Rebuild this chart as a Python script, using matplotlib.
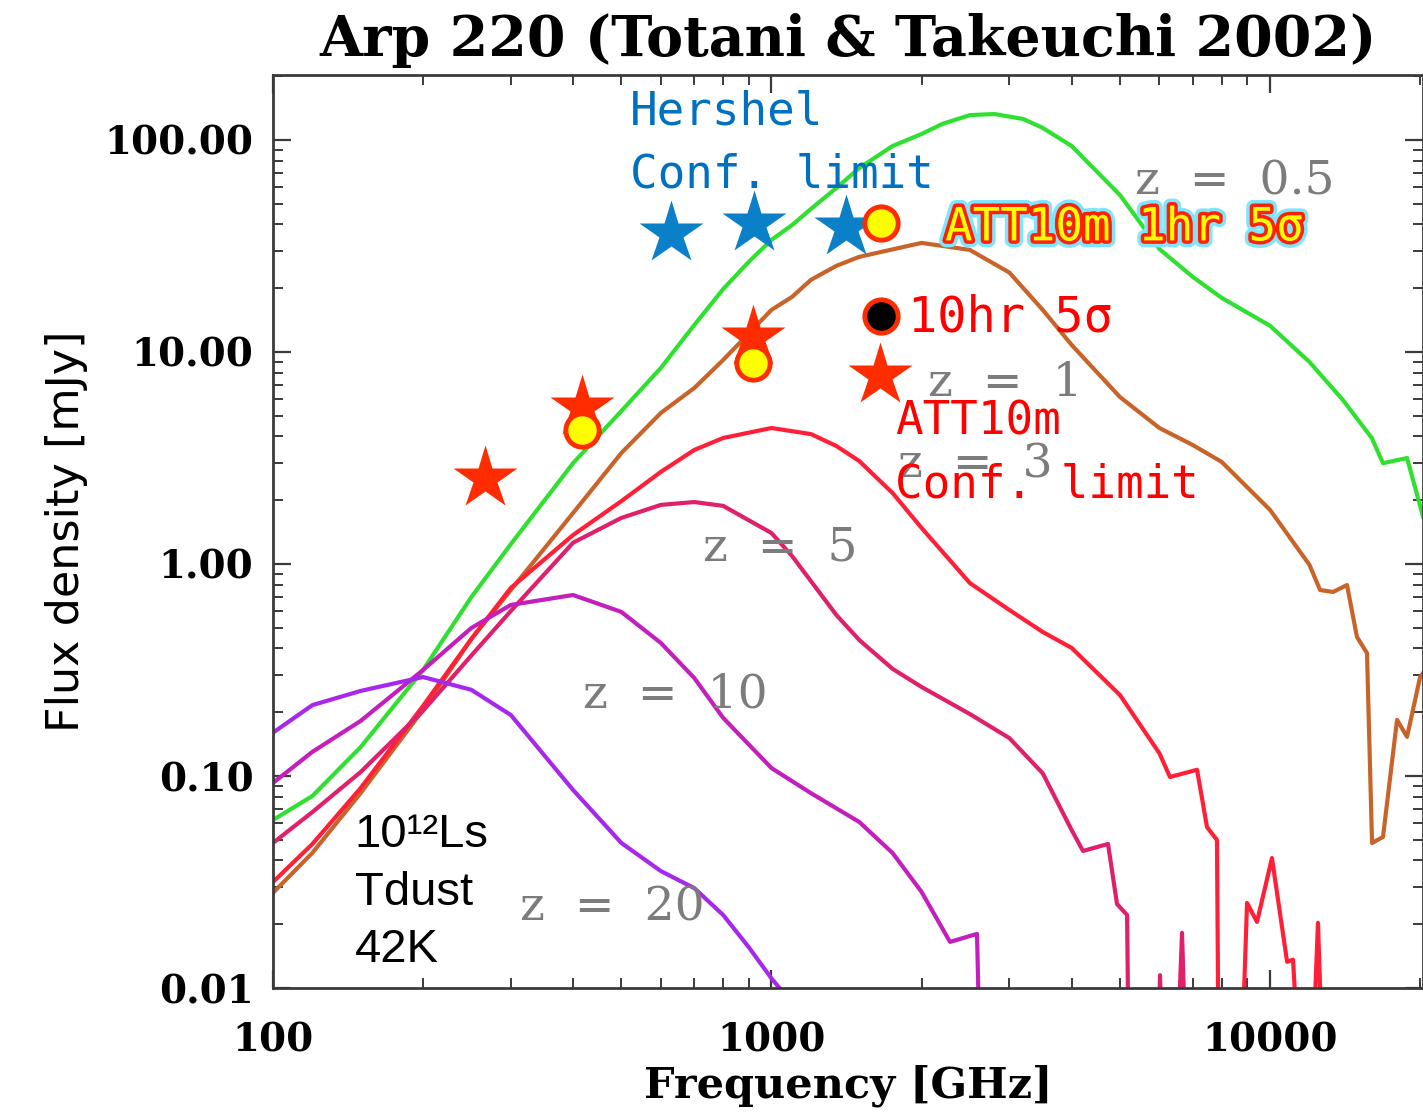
import matplotlib
matplotlib.use("Agg")
import matplotlib.pyplot as plt
import matplotlib.patheffects as pe
from matplotlib.ticker import FixedLocator, FixedFormatter, LogLocator, NullFormatter

LOW = 1e-3  # curve falls below the plotted range

# z = 0.5 (green)
freq_g = [100, 120, 150, 200, 250, 300, 400, 500, 600, 700, 800, 900, 1000, 1100, 1200, 1350,
          1500, 1750, 2000, 2200, 2500, 2800, 3200, 3500, 4000, 5000, 6000, 7000, 8000, 10000,
          12000, 14000, 16000, 16850, 18830, 19360, 20280]
flux_g = [0.062, 0.0805, 0.137, 0.316, 0.698, 1.24, 2.99, 5.27, 8.41, 13.4, 19.8, 26.6, 33.8,
          39.7, 47.3, 59.4, 73.8, 93.7, 106.7, 119, 131, 132.6, 125.6, 114, 93.7, 55, 30.6,
          22.6, 18.0, 13.3, 8.97, 5.94, 3.93, 2.99, 3.16, 2.49, 1.67]

# z = 1 (brown)
freq_b = [100, 120, 150, 200, 250, 300, 400, 500, 600, 700, 800, 1000, 1100, 1200, 1350, 1500,
          2000, 2500, 3000, 3500, 4000, 5000, 6000, 7000, 8000, 10000, 12000, 12600, 13380,
          14270, 14940, 15650, 16020, 16850, 17980, 18830, 20000, 20280]
flux_b = [0.0281, 0.0434, 0.0832, 0.205, 0.443, 0.754, 1.74, 3.34, 5.16, 6.76, 9.17, 15.8,
          18.2, 21.9, 25.5, 28.1, 32.7, 30.3, 23.7, 15.8, 10.8, 6.13, 4.38, 3.64, 3.03, 1.80,
          0.99, 0.754, 0.738, 0.796, 0.453, 0.38, 0.0483, 0.0516, 0.184, 0.153, 0.293, 0.306]

# z = 3 (red)
freq_r = [100, 120, 150, 200, 250, 300, 400, 500, 600, 700, 800, 1000, 1200, 1350, 1500, 1750,
          2000, 2500, 3000, 3500, 4000, 5000, 6000, 6300, 7139, 7475, 7827, 7920, 8588, 8993,
          9417, 10090, 10820, 11120, 11860, 12480, 13010]
flux_r = [0.0316, 0.0478, 0.0878, 0.214, 0.443, 0.771, 1.37, 1.98, 2.72, 3.45, 3.93, 4.38,
          4.10, 3.60, 3.06, 2.16, 1.48, 0.813, 0.607, 0.478, 0.402, 0.241, 0.128, 0.0989,
          0.107, 0.0574, 0.0499, LOW, LOW, 0.0252, 0.0205, 0.041, 0.0133, 0.0136, LOW,
          0.0203, LOW]

# z = 5 (crimson)
freq_c = [100, 120, 150, 200, 250, 300, 400, 500, 600, 700, 800, 1000, 1100, 1200, 1350, 1500,
          1750, 2000, 2500, 3000, 3500, 4000, 4216, 4732, 4933, 5168, 5240, 5880, 6017, 6185,
          6359, 6660, 6911]
flux_c = [0.0483, 0.0676, 0.1045, 0.203, 0.37, 0.6, 1.26, 1.65, 1.90, 1.96, 1.88, 1.40, 1.09,
          0.83, 0.574, 0.438, 0.32, 0.263, 0.196, 0.151, 0.103, 0.0556, 0.0443, 0.0478,
          0.0249, 0.0221, LOW, LOW, 0.0115, LOW, LOW, 0.0182, LOW]

# z = 10 (magenta)
freq_m = [100, 120, 150, 200, 250, 300, 400, 500, 600, 700, 800, 1000, 1200, 1500, 1750,
          2000, 2281, 2584, 2657]
flux_m = [0.0927, 0.130, 0.182, 0.316, 0.499, 0.641, 0.714, 0.594, 0.424, 0.29, 0.188,
          0.109, 0.083, 0.0607, 0.0433, 0.0284, 0.0165, 0.018, LOW]

# z = 20 (purple)
freq_p = [100, 120, 150, 200, 250, 300, 400, 500, 600, 700, 800, 900, 1000, 1100]
flux_p = [0.160, 0.216, 0.252, 0.293, 0.255, 0.194, 0.0859, 0.0483, 0.0356, 0.0296, 0.0221,
          0.0156, 0.0111, 0.0085]

# Herschel confusion limit
hers_f = [629, 922, 1411]
hers_s = [36.4, 40.6, 38.9]
# ATT10m confusion limit
conf_f = [266, 417, 918, 1651]
conf_s = [2.55, 5.50, 11.8, 7.79]
# ATT10m 1hr 5 sigma
hr1_f = [417, 918, 1659]
hr1_s = [4.29, 8.87, 40.6]
# ATT10m 10hr 5 sigma
hr10_f = [1659]
hr10_s = [14.8]

ytick_vals = [0.01, 0.1, 1, 10, 100]
ytick_lbls = ["0.01", "0.10", "1.00", "10.00", "100.00"]
xtick_vals = [100, 1000, 10000]
xtick_lbls = ["100", "1000", "10000"]

serif = "DejaVu Serif"
mono = "DejaVu Sans Mono"

fig = plt.figure(figsize=(14.23, 11.14), dpi=100)
ax = fig.add_axes([0.1918, 0.1131, 0.8082, 0.8196])
ax.set_xscale("log")
ax.set_yscale("log")

lw = 3.0
ax.plot(freq_g, flux_g, color="#30e030", lw=lw)
ax.plot(freq_b, flux_b, color="#c8642a", lw=lw)
ax.plot(freq_r, flux_r, color="#ff2038", lw=lw)
ax.plot(freq_c, flux_c, color="#e0206a", lw=lw)
ax.plot(freq_m, flux_m, color="#c41ebc", lw=lw)
ax.plot(freq_p, flux_p, color="#a628ec", lw=lw)

ax.set_xlim(100, 20270)
ax.set_ylim(0.01, 202.6)

# redshift labels
zc = "#7c7c7c"
zfs = 34
ax.text(8510, 63.4, "z  =  0.5", color=zc, fontsize=zfs, family=serif, ha="center", va="center")
ax.text(2940, 7.14, "z  =  1", color=zc, fontsize=zfs, family=serif, ha="center", va="center")
ax.text(2560, 2.93, "z  =  3", color=zc, fontsize=zfs, family=serif, ha="center", va="center")
ax.text(1040, 1.19, "z  =  5", color=zc, fontsize=zfs, family=serif, ha="center", va="center")
ax.text(640, 0.241, "z  =  10", color=zc, fontsize=zfs, family=serif, ha="center", va="center")
ax.text(479, 0.0238, "z  =  20", color=zc, fontsize=zfs, family=serif, ha="center", va="center")

# markers
ax.plot(hers_f, hers_s, ls="none", marker="*", ms=48, color="#0a80c8", mec="none", zorder=5)
ax.plot(conf_f, conf_s, ls="none", marker="*", ms=48, color="#ff2c00", mec="none", zorder=5)
ax.plot(hr1_f, hr1_s, ls="none", marker="o", ms=24, mfc="#ffff00", mec="#ff2c00", mew=3.5, zorder=6)
ax.plot(hr10_f, hr10_s, ls="none", marker="o", ms=24, mfc="black", mec="#ff2c00", mew=3.5, zorder=6)

# annotations
ax.text(520, 135.6, "Hershel", color="#0070c0", fontsize=33, family=mono, va="center", zorder=7)
ax.text(520, 68.4, "Conf. limit", color="#0070c0", fontsize=33, family=mono, va="center", zorder=7)
ax.text(2229, 38.5, "ATT10m 1hr 5σ", color="#ffff00", fontsize=33, family=mono, va="center",
        zorder=7, path_effects=[pe.withStroke(linewidth=10, foreground="#80e4ff"),
                                pe.withStroke(linewidth=5, foreground="#ff2000")])
ax.text(1879, 14.5, "10hr 5σ", color="red", fontsize=35, family=mono, va="center", zorder=7)
ax.text(1769, 4.67, "ATT10m", color="red", fontsize=33, family=mono, va="center", zorder=7)
ax.text(1769, 2.36, "Conf. limit", color="red", fontsize=33, family=mono, va="center", zorder=7)
ax.text(146, 0.0527, "10¹²Ls", color="black", fontsize=34, family="Liberation Sans", va="center", zorder=7)
ax.text(146, 0.0281, "Tdust", color="black", fontsize=34, family="Liberation Sans", va="center", zorder=7)
ax.text(146, 0.0151, "42K", color="black", fontsize=34, family="Liberation Sans", va="center", zorder=7)

# axes styling
for s in ax.spines.values():
    s.set_color("#3a3a3a")
    s.set_linewidth(2)
ax.xaxis.set_major_locator(FixedLocator(xtick_vals))
ax.xaxis.set_major_formatter(FixedFormatter(xtick_lbls))
ax.yaxis.set_major_locator(FixedLocator(ytick_vals))
ax.yaxis.set_major_formatter(FixedFormatter(ytick_lbls))
ax.xaxis.set_minor_locator(LogLocator(base=10, subs=range(2, 10)))
ax.yaxis.set_minor_locator(LogLocator(base=10, subs=range(2, 10)))
ax.xaxis.set_minor_formatter(NullFormatter())
ax.yaxis.set_minor_formatter(NullFormatter())
ax.tick_params(which="both", direction="in", top=True, right=True, color="#3a3a3a")
ax.tick_params(which="major", length=13, width=1.6)
ax.tick_params(which="minor", length=7, width=1.4)
ax.tick_params(axis="x", which="major", pad=24, labelsize=28)
ax.tick_params(axis="y", which="major", pad=14, labelsize=28)
for lab in ax.get_xticklabels() + ax.get_yticklabels():
    lab.set_family(serif)
    lab.set_fontweight("bold")

ax.set_title("Arp 220 (Totani & Takeuchi 2002)", family=serif, fontsize=40,
             fontweight="bold", pad=14)
ax.set_xlabel("Frequency [GHz]", family=serif, fontsize=31, fontweight="bold", labelpad=4)
ax.set_ylabel("Flux density [mJy]", family="DejaVu Sans", fontsize=32, labelpad=12)

fig.savefig("out.png", dpi=100)
